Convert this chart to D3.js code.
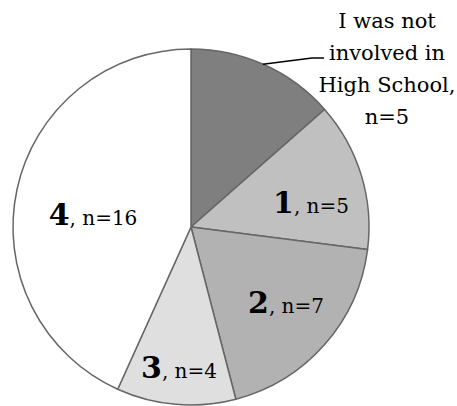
<!DOCTYPE html>
<html>
<head>
<meta charset="utf-8">
<script src="https://cdn.jsdelivr.net/npm/d3@7"></script>
<style>
  html, body { margin: 0; padding: 0; background: #fff; }
  svg { display: block; }
  text { font-family: "DejaVu Serif", "Liberation Serif", serif; fill: #000; }
</style>
</head>
<body>
<svg id="chart" width="457" height="406"></svg>
<script>
// Responses by level of involvement
const categories = ["I was not involved in High School", "1", "2", "3", "4"];
const counts = [5, 5, 7, 4, 16];
const fills = ["#7f7f7f", "#c0c0c0", "#b2b2b2", "#dfdfdf", "#ffffff"];

const width = 457, height = 406;
const cx = 191, cy = 227, radius = 178;

const svg = d3.select("#chart");
const g = svg.append("g").attr("transform", `translate(${cx},${cy})`);

const pie = d3.pie().sort(null).value(d => d.value);
const arc = d3.arc().innerRadius(0).outerRadius(radius);

const data = categories.map((c, i) => ({ name: c, value: counts[i], fill: fills[i] }));
const arcs = pie(data);

g.selectAll("path.slice")
  .data(arcs)
  .join("path")
  .attr("class", "slice")
  .attr("d", arc)
  .attr("fill", d => d.data.fill)
  .attr("stroke", "#666")
  .attr("stroke-width", 1.5)
  .attr("stroke-linejoin", "round");

// Inside labels: bold level number followed by ", n=…"
// offsets of each label's centre from the pie centre
const labelOffsets = [null, [120, -14], [95, 86], [-12, 151], [-98, -2]];

arcs.forEach((a, i) => {
  if (!labelOffsets[i]) return;
  const [dx, dy] = labelOffsets[i];
  const t = g.append("text")
    .attr("x", dx)
    .attr("y", dy)
    .attr("text-anchor", "middle");
  t.append("tspan")
    .attr("font-weight", "bold")
    .attr("font-size", 30)
    .text(a.data.name);
  t.append("tspan")
    .attr("font-size", 20)
    .text(", n=" + a.data.value);
});

// Outside label for the first slice, with a leader line
const first = arcs[0];
const outer = d3.arc().innerRadius(radius).outerRadius(radius);
const edgeAngle = first.startAngle + (first.endAngle - first.startAngle) * 0.49;
const edgePt = outer.centroid({ startAngle: edgeAngle, endAngle: edgeAngle });

g.append("polyline")
  .attr("points", [edgePt, [121, -169], [133, -169]].map(p => p.join(",")).join(" "))
  .attr("fill", "none")
  .attr("stroke", "#000")
  .attr("stroke-width", 1.5);

const outLines = ["I was not", "involved in", "High School,", "n=" + first.data.value];
svg.append("g")
  .selectAll("text")
  .data(outLines)
  .join("text")
  .attr("x", 387)
  .attr("y", (d, i) => 27.5 + i * 32)
  .attr("text-anchor", "middle")
  .attr("font-size", 21)
  .text(d => d);
</script>
</body>
</html>
